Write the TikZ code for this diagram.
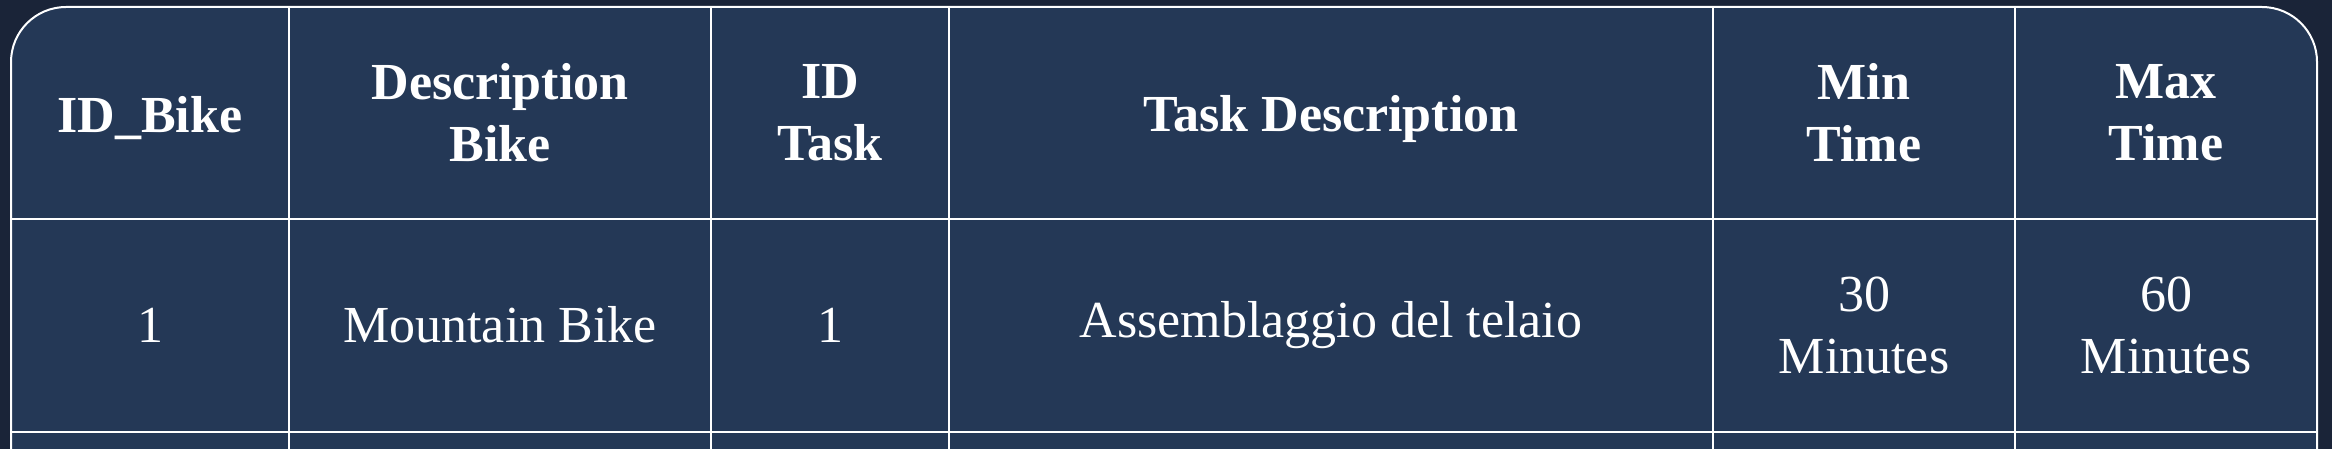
\documentclass[tikz,border=0pt]{standalone}
\usepackage{fontspec}
\setmainfont{Liberation Serif}

\definecolor{pagebg}{HTML}{1A2438}
\definecolor{cellbg}{HTML}{243856}

\tikzset{
  head/.style={text=white, align=center, font=\fontsize{26pt}{31pt}\selectfont\bfseries},
  cell/.style={text=white, align=center, font=\fontsize{26pt}{31pt}\selectfont},
  rule/.style={draw=white, line width=1pt}
}

\begin{document}
\begin{tikzpicture}[x=0.5pt, y=-0.5pt]
\useasboundingbox (0,0) rectangle (2332,449);
\clip (0,0) rectangle (2332,449);

\fill[pagebg] (0,0) rectangle (2332,449);

% table body with rounded top corners
\filldraw[fill=cellbg, rule, rounded corners=27.5pt] (11,500) -- (11,7) -- (2317,7) -- (2317,500);

% column rules
\foreach \x in {289,711,949,1713,2015}
  \draw[rule] (\x,7) -- (\x,460);

% row rules
\foreach \y in {219,432}
  \draw[rule] (11,\y) -- (2317,\y);

% header
\node[head] (hbike)  at (150,118)  {ID\_Bike};
\node[head] (hdesc)  at (500,113)  {Description\\Bike};
\node[head] (htask)  at (830,113)  {ID\\Task};
\node[head] (htdesc) at (1331,119) {Task Description};
\node[head] (hmin)   at (1864,113) {Min\\Time};
\node[head] (hmax)   at (2166,113) {Max\\Time};

% first row
\node[cell] (rbike)  at (150,325)  {1};
\node[cell] (rdesc)  at (500,325)  {Mountain Bike};
\node[cell] (rtask)  at (830,325)  {1};
\node[cell] (rtdesc) at (1331,325) {Assemblaggio del telaio};
\node[cell] (rmin)   at (1864,325) {30\\Minutes};
\node[cell] (rmax)   at (2166,325) {60\\Minutes};
\end{tikzpicture}
\end{document}
